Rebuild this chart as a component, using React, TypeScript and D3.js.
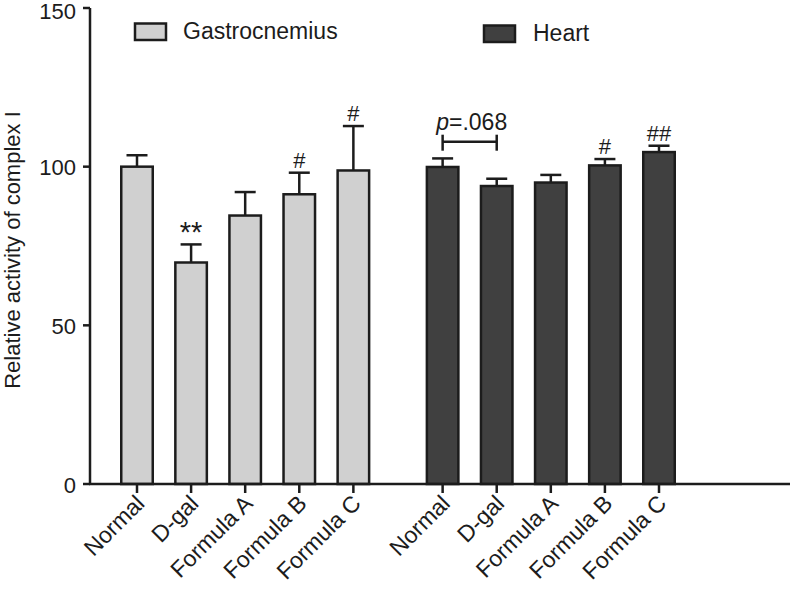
import React from "react";
import * as d3 from "d3";

// categories and values
const groups = ["Normal", "D-gal", "Formula A", "Formula B", "Formula C"];
const gastroMeans = [100, 69.8, 84.6, 91.3, 98.8];
const gastroSem = [3.6, 5.7, 7.4, 6.8, 14.0];
const gastroMarks = ["", "**", "", "#", "#"];
const heartMeans = [99.9, 93.9, 95.0, 100.4, 104.6];
const heartSem = [2.7, 2.3, 2.4, 2.0, 2.0];
const heartMarks = ["", "", "", "#", "##"];
const yTicks = [0, 50, 100, 150];
const seriesNames = ["Gastrocnemius", "Heart"];
const pLabel = ".068";

const W = 792;
const H = 594;
const FONT = "Liberation Sans, Arial, Helvetica, sans-serif";
const INK = "#1c1c1c";
const LIGHT = "#d0d0d0";
const DARK = "#404040";

const App = () => {
  const y = d3.scaleLinear().domain([0, 150]).range([484, 8]);
  // slot positions: gastro 0..4, heart after a gap
  const gap = 5.65;
  const x = d3.scaleLinear().domain([0, 4 + gap]).range([137, 659]);
  const barW = 31.5;
  const capW = 21;

  const bars = [
    ...groups.map((g, i) => ({ g, pos: i, mean: gastroMeans[i], sem: gastroSem[i], mark: gastroMarks[i], fill: LIGHT })),
    ...groups.map((g, i) => ({ g, pos: i + gap, mean: heartMeans[i], sem: heartSem[i], mark: heartMarks[i], fill: DARK })),
  ];

  const xAxisY = y(0);
  const pA = x(gap);
  const pB = x(gap + 1);
  const pY = 141.7;

  return (
    <svg width={W} height={H} style={{ display: "block", position: "absolute", left: 0, top: 0 }} fontFamily={FONT}>
      <rect width={W} height={H} fill="#fff" />

      {/* bars */}
      {bars.map((b, i) => {
        const cx = x(b.pos);
        const top = y(b.mean);
        const cap = y(b.mean + b.sem);
        const stars = b.mark === "**";
        return (
          <g key={i}>
            <line x1={cx} x2={cx} y1={top} y2={cap} stroke={INK} strokeWidth={2.5} />
            <line x1={cx - capW / 2} x2={cx + capW / 2} y1={cap} y2={cap} stroke={INK} strokeWidth={2.5} />
            <rect x={cx - barW / 2} y={top} width={barW} height={xAxisY - top} fill={b.fill} stroke={INK} strokeWidth={2.5} />
            {b.mark && (
              <text
                x={cx}
                y={cap - (stars ? 2 : 5)}
                textAnchor="middle"
                fontSize={stars ? 29 : 22}
                fill={INK}
              >
                {b.mark}
              </text>
            )}
          </g>
        );
      })}

      {/* y axis */}
      <line x1={90} x2={90} y1={y(150)} y2={xAxisY} stroke={INK} strokeWidth={2.5} />
      {yTicks.map((t) => (
        <g key={t}>
          <line x1={83} x2={90} y1={y(t)} y2={y(t)} stroke={INK} strokeWidth={2.5} />
          <text x={76} y={Math.max(y(t) + 8.8, 18.5)} textAnchor="end" fontSize={22} fill={INK}>
            {t}
          </text>
        </g>
      ))}
      <text
        transform={`translate(20, ${(y(0) + y(150)) / 2 + 4}) rotate(-90)`}
        textAnchor="middle"
        fontSize={22}
        fill={INK}
      >
        Relative activity of complex I
      </text>

      {/* x axis */}
      <line x1={89} x2={790} y1={xAxisY} y2={xAxisY} stroke={INK} strokeWidth={2.5} />
      {bars.map((b, i) => {
        const cx = x(b.pos);
        return (
          <g key={"t" + i}>
            <line x1={cx} x2={cx} y1={xAxisY} y2={xAxisY + 9} stroke={INK} strokeWidth={2.5} />
            <text
              transform={`translate(${cx + 3}, ${xAxisY + 15}) rotate(-45)`}
              textAnchor="end"
              dy="0.36em"
              fontSize={23}
              fill={INK}
            >
              {b.g}
            </text>
          </g>
        );
      })}

      {/* p-value bracket */}
      <line x1={pA} x2={pB} y1={pY} y2={pY} stroke={INK} strokeWidth={2.5} />
      <line x1={pA} x2={pA} y1={pY - 7} y2={pY + 9} stroke={INK} strokeWidth={2.5} />
      <line x1={pB} x2={pB} y1={pY - 7} y2={pY + 9} stroke={INK} strokeWidth={2.5} />
      <text x={(pA + pB) / 2 + 2} y={130} textAnchor="middle" fontSize={23} fill={INK}>
        <tspan fontStyle="italic">p</tspan>={pLabel}
      </text>

      {/* legend */}
      <rect x={135} y={23.5} width={31} height={16.5} fill={LIGHT} stroke={INK} strokeWidth={2.5} />
      <text x={183} y={39} fontSize={23} fill={INK}>
        {seriesNames[0]}
      </text>
      <rect x={484} y={25.5} width={31} height={16.5} fill={DARK} stroke={INK} strokeWidth={2.5} />
      <text x={533} y={41} fontSize={23} fill={INK}>
        {seriesNames[1]}
      </text>
    </svg>
  );
};

export default App;
